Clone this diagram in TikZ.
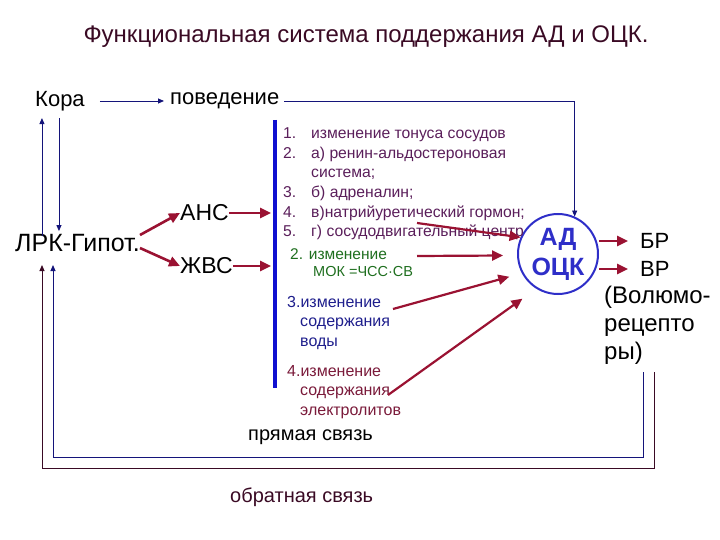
\documentclass[tikz,border=0pt]{standalone}
\usepackage{fontspec}
\setmainfont{Liberation Sans}
\usetikzlibrary{matrix,arrows.meta}
\definecolor{ttl}{HTML}{3A0A24}
\definecolor{arr}{HTML}{9A1232}
\definecolor{nav}{HTML}{14147A}
\definecolor{barc}{HTML}{1010D0}
\definecolor{lstc}{HTML}{5A1E5A}
\definecolor{grn}{HTML}{1E6E1E}
\definecolor{blu}{HTML}{1E1E8C}
\definecolor{mar}{HTML}{7A1A3A}
\definecolor{crc}{HTML}{2E2EC8}
\newcommand\fsz[1]{\fontsize{#1}{#1}\selectfont}

\begin{document}
\begin{tikzpicture}[x=1pt,y=-1pt,
    txt/.style={anchor=west,inner sep=0pt},
    big/.style={txt,font=\fsz{22}},
    redarr/.style={arr,line width=2.6pt,-{Triangle[length=11pt,width=10pt]}},
    thinarr/.style={nav,line width=0.9pt,-{Triangle[length=6pt,width=5pt]}}]
    \useasboundingbox (0,0) rectangle (720,540);

    \node[font=\fsz{24},text=ttl] (title) at (366,37) {Функциональная система поддержания АД и ОЦК.};

    \node[big] (kora) at (35,101) {Кора};
    \node[big] (pov) at (170,101) {поведение};
    \node[big,font=\fsz{25}] (lrk) at (15,243) {ЛРК-Гипот.};
    \node[big,font=\fsz{23}] (ans) at (180,213) {АНС};
    \node[big,font=\fsz{23}] (zhvs) at (180,266) {ЖВС};

    % right side
    \node[circle,draw=crc,line width=2pt,minimum size=80pt,inner sep=0pt,text=crc,
        font=\bfseries\fontsize{25}{30}\selectfont,align=center] (ad) at (558,254) {АД\\ОЦК};
    \node[big] (br) at (640,241) {БР};
    \node[big] (vr) at (640,269) {ВР};
    \node[txt,font=\fontsize{24}{28}\selectfont,align=left] (vol) at (604,325) {(Волюмо-\\рецепто\\ры)};

    \coordinate (barT) at (275,120);
    \coordinate (barB) at (275,388);
    \draw[barc,line width=3.5pt] (barT) -- (barB);

    \matrix (lst) [matrix of nodes, nodes in empty cells, anchor=north west, inner sep=0pt,
        row sep=4.6pt, column sep=0pt,
        nodes={anchor=west, inner sep=0pt, text height=11pt, text depth=4pt,
            font=\fsz{15.7}, text=lstc},
        column 1/.style={nodes={text width=28pt}}
    ] at (283,127.5)
    {
        1. & изменение тонуса сосудов       \\
        2. & а) ренин-альдостероновая       \\
           & {система;}                     \\
        3. & {б) адреналин;}                \\
        4. & {в)натрийуретический гормон;}  \\
        5. & г) сосудодвигательный центр    \\
    };

    \node[txt,font=\fsz{15.5},text=grn] (g1) at (290,254) {2. изменение};
    \node[txt,font=\fsz{14.5},text=grn] (g2) at (313,272) {МОК =ЧСС·СВ};
    \node[txt,font=\fontsize{16}{19.5}\selectfont,text=blu,align=left] (w) at (287,323)
        {3.изменение\\\hspace*{13pt}содержания\\\hspace*{13pt}воды};
    \node[txt,font=\fontsize{16}{19.5}\selectfont,text=mar,align=left] (el) at (287,392)
        {4.изменение\\\hspace*{13pt}содержания\\\hspace*{13pt}электролитов};
    \node[txt,font=\fsz{20}] (pr) at (248,437) {прямая связь};
    \node[txt,font=\fsz{20},text=ttl] (ob) at (230,497) {обратная связь};

    % connectors
    \draw[thinarr,shorten <=15pt,shorten >=6pt] (kora) -- (pov);
    \draw[thinarr] ([xshift=5pt]pov.east) -| (ad.66);
    \coordinate (k1) at ([shift={(-18,7)}]kora.south);
    \coordinate (k2) at ([shift={(-1,7)}]kora.south);
    \draw[thinarr] ([yshift=-2pt]lrk.north -| k1) -- (k1);
    \draw[thinarr] (k2) -- ([yshift=3pt]lrk.north -| k2);

    \draw[redarr] ([shift={(0,-8)}]lrk.east) -- (ans.west);
    \draw[redarr] ([shift={(0,5)}]lrk.east) -- (zhvs.west);
    \draw[redarr,shorten >=4pt] (ans.east) -- (ans.east -| barT);
    \draw[redarr,shorten >=4pt] (zhvs.east) -- (zhvs.east -| barT);

    \coordinate (s1) at (417,223);
    \coordinate (s2) at (417,256);
    \coordinate (s3) at (393,309);
    \coordinate (s4) at (388,395);
    \draw[redarr,line width=2.2pt] (s1) -- (ad.156);
    \draw[redarr,line width=2.2pt,shorten >=14pt] (s2) -- (ad.182);
    \draw[redarr,line width=2.2pt,shorten >=13pt] (s3) -- (ad.208);
    \draw[redarr,line width=2.2pt,shorten >=17pt] (s4) -- (ad.238);

    \draw[redarr] (ad.east |- br) -- ([xshift=-12pt]br.west);
    \draw[redarr] (ad.east |- vr) -- ([xshift=-12pt]vr.west);

    % feedback
    \coordinate (fbi) at (643,372);
    \coordinate (fbo) at (654,372);
    \coordinate (fi) at (53,265);
    \coordinate (fo) at (42,265);
    \draw[thinarr] (fbi) -- ++(0,85) -| (fi);
    \draw[thinarr,ttl] (fbo) -- ++(0,96) -| (fo);
\end{tikzpicture}
\end{document}
